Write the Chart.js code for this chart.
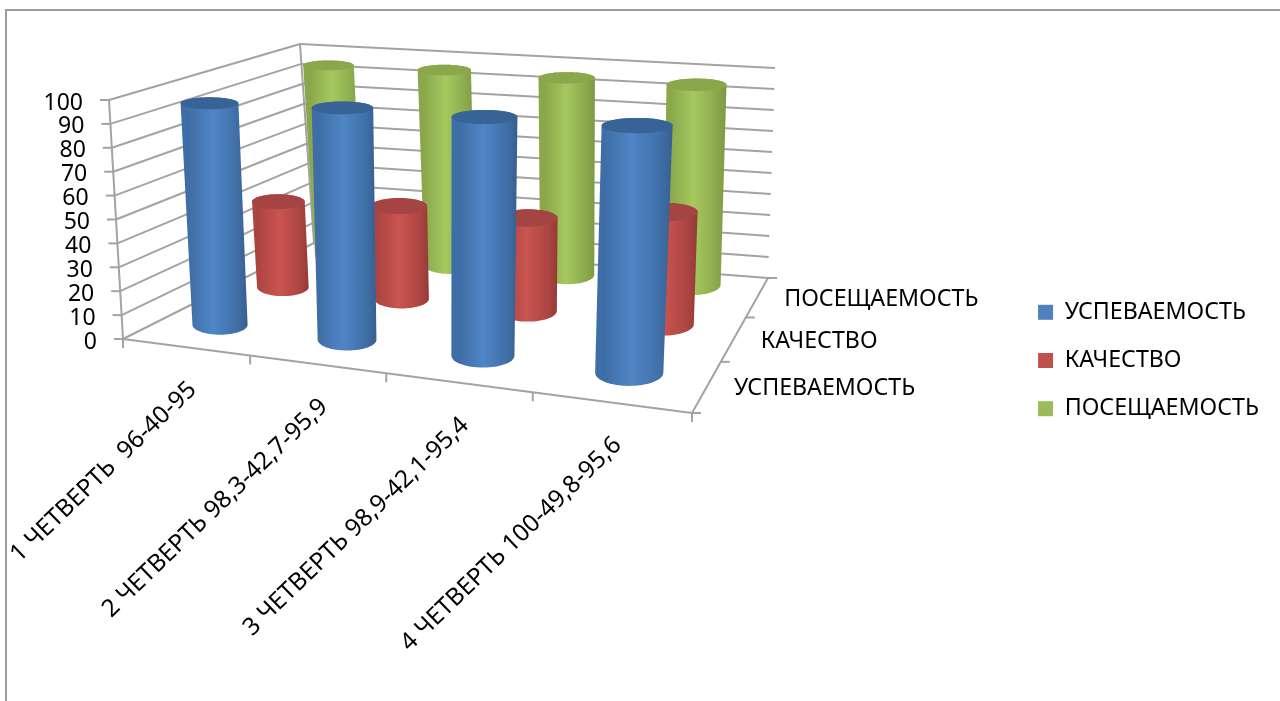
<!DOCTYPE html>
<html>
<head>
<meta charset="utf-8">
<style>
body { margin: 0; background: #fff; }
canvas { display: block; }
</style>
<script src="https://cdn.jsdelivr.net/npm/chart.js"></script>
</head>
<body>
<canvas id="chart" width="1280" height="701"></canvas>
<script>
const quarters = ['1 ЧЕТВЕРТЬ  96-40-95', '2 ЧЕТВЕРТЬ 98,3-42,7-95,9', '3 ЧЕТВЕРТЬ 98,9-42,1-95,4', '4 ЧЕТВЕРТЬ 100-49,8-95,6'];
const seriesNames = ['УСПЕВАЕМОСТЬ', 'КАЧЕСТВО', 'ПОСЕЩАЕМОСТЬ'];
const uspevaemost = [96, 98.3, 98.9, 100];
const kachestvo = [40, 42.7, 42.1, 49.8];
const poseshchaemost = [95, 95.9, 95.4, 95.6];
const seriesValues = [uspevaemost, kachestvo, poseshchaemost];
const swatchColors = ['#4f81bd', '#c0504d', '#9bbb59'];

// cylinder shading: edge left, light, edge right, top cap
const shades = [
  ['#3f6ea6', '#4f86c6', '#365f90', '#376396'],
  ['#ac4542', '#ca5450', '#943a37', '#a54543'],
  ['#8aa84b', '#a6c85f', '#7d9942', '#8ba74c']
];

// the 3D box as seen on the page: [front-left, front-right, back-right, back-left]
const floorQuad = [[123, 339], [692, 413], [768, 278], [314, 243]];
const topQuad = [[109, 100], [704, 147], [775, 68], [300, 44]];

const FONT = '"Noto Sans", sans-serif';
const GRID = '#a3a3a3';
const PERSPECTIVE = 0.625; // share of true perspective, the rest is plain bilinear

function homography(q) {
  const [p0, p1, p2, p3] = q;
  const dx1 = p1[0] - p2[0], dx2 = p3[0] - p2[0], sx = p0[0] - p1[0] + p2[0] - p3[0];
  const dy1 = p1[1] - p2[1], dy2 = p3[1] - p2[1], sy = p0[1] - p1[1] + p2[1] - p3[1];
  const den = dx1 * dy2 - dx2 * dy1;
  const g = (sx * dy2 - dx2 * sy) / den;
  const h = (dx1 * sy - sx * dy1) / den;
  const a = p1[0] - p0[0] + g * p1[0], b = p3[0] - p0[0] + h * p3[0];
  const d = p1[1] - p0[1] + g * p1[1], e = p3[1] - p0[1] + h * p3[1];
  return (u, w) => {
    const k = g * u + h * w + 1;
    const hx = (a * u + b * w + p0[0]) / k, hy = (d * u + e * w + p0[1]) / k;
    const lin = i => (p0[i] * (1 - u) + p1[i] * u) * (1 - w) + (p3[i] * (1 - u) + p2[i] * u) * w;
    return [hx * PERSPECTIVE + lin(0) * (1 - PERSPECTIVE), hy * PERSPECTIVE + lin(1) * (1 - PERSPECTIVE)];
  };
}
const floorAt = homography(floorQuad);
const topAt = homography(topQuad);

// u, w across the floor 0..1, t up the wall 0..1; lift raises only the floor end
function project(u, w, t, lift = 0) {
  const f = floorAt(u, w), c = topAt(u, w);
  const fy = floorAt(u, w + lift)[1];
  return [f[0] + (c[0] - f[0]) * t, fy + (c[1] - fy) * t];
}

function hull(pts) {
  const s = pts.slice().sort((a, b) => a[0] - b[0] || a[1] - b[1]);
  const cross = (o, a, b) => (a[0] - o[0]) * (b[1] - o[1]) - (a[1] - o[1]) * (b[0] - o[0]);
  const half = list => {
    const out = [];
    for (const p of list) {
      while (out.length > 1 && cross(out[out.length - 2], out[out.length - 1], p) <= 0) out.pop();
      out.push(p);
    }
    out.pop();
    return out;
  };
  return half(s).concat(half(s.reverse()));
}

function polyPath(ctx, pts) {
  ctx.beginPath();
  pts.forEach((p, i) => i ? ctx.lineTo(p[0], p[1]) : ctx.moveTo(p[0], p[1]));
  ctx.closePath();
}

function line(ctx, a, b) {
  ctx.beginPath();
  ctx.moveTo(a[0], a[1]);
  ctx.lineTo(b[0], b[1]);
  ctx.stroke();
}

const R_U = 0.056, R_W = 0.09;

function drawCylinder(ctx, u, w, t, shade) {
  const lift = Math.min(0.06, 0.015 + 0.09 * w);
  // flat ellipse sized by how far the footprint reaches at that level
  const ring = level => {
    const c = project(u, w, level, lift);
    const rx = Math.abs(project(u + R_U, w, level)[0] - project(u - R_U, w, level)[0]) / 2;
    const ry = Math.abs(project(u, w + R_W, level)[1] - project(u, w - R_W, level)[1]) / 2;
    const pts = [];
    for (let i = 0; i < 64; i++) {
      const a = i / 64 * Math.PI * 2;
      pts.push([c[0] + rx * Math.cos(a), c[1] + ry * Math.sin(a)]);
    }
    return pts;
  };
  const base = ring(0), cap = ring(t);
  const body = hull(base.concat(cap));
  const xs = body.map(p => p[0]);
  const xl = Math.min(...xs), xr = Math.max(...xs);
  const g = ctx.createLinearGradient(xl, 0, xr, 0);
  g.addColorStop(0, shade[0]);
  g.addColorStop(0.12, shade[0]);
  g.addColorStop(0.48, shade[1]);
  g.addColorStop(0.85, shade[0]);
  g.addColorStop(1, shade[2]);
  ctx.fillStyle = g;
  polyPath(ctx, body);
  ctx.fill();
  ctx.fillStyle = shade[3];
  polyPath(ctx, cap);
  ctx.fill();
}

const scene = {
  id: 'scene',
  beforeDraw(chart) {
    const ctx = chart.ctx;
    ctx.save();
    ctx.fillStyle = '#fff';
    ctx.fillRect(0, 0, chart.width, chart.height);
    ctx.strokeStyle = '#9c9c9c';
    ctx.lineWidth = 2;
    ctx.beginPath();
    ctx.moveTo(chart.width, 10);
    ctx.lineTo(6, 10);
    ctx.lineTo(6, chart.height);
    ctx.stroke();
    ctx.restore();
  },
  // replaces the flat bars with the 3D box and cylinders
  beforeDatasetsDraw(chart) {
    const ctx = chart.ctx;
    const xs = chart.scales.x, ys = chart.scales.y, zs = chart.scales.z;
    const uOf = i => (xs.getPixelForValue(i) - xs.left) / xs.width;
    const wOf = i => (zs.getPixelForValue(i) - zs.left) / zs.width;
    const tOf = v => (ys.bottom - ys.getPixelForValue(v)) / ys.height;

    ctx.save();
    ctx.strokeStyle = GRID;
    ctx.lineWidth = 2;

    // walls and value ticks
    ys.ticks.forEach(tick => {
      const t = tOf(tick.value);
      const fl = project(0, 0, t), bl = project(0, 1, t), br = project(1, 1, t);
      line(ctx, fl, bl);
      line(ctx, bl, br);
      line(ctx, [fl[0] - 9, fl[1]], fl);
      ctx.fillStyle = '#000';
      ctx.font = '23px ' + FONT;
      ctx.textAlign = 'right';
      ctx.textBaseline = 'middle';
      ctx.fillText(tick.label, fl[0] - 26, fl[1] + 3);
    });
    line(ctx, project(0, 0, 0), project(0, 0, 1));
    line(ctx, project(0, 1, 0), project(0, 1, 1));

    // floor edges
    line(ctx, project(0, 0, 0), project(1, 0, 0));
    line(ctx, project(1, 0, 0), project(1, 1, 0));
    for (let i = 0; i <= quarters.length; i++) {
      const p = project(i / quarters.length, 0, 0);
      line(ctx, p, [p[0], p[1] + 9]);
    }
    for (let i = 0; i <= seriesNames.length; i++) {
      const p = project(1, i / seriesNames.length, 0);
      line(ctx, p, [p[0] + 9, p[1]]);
    }

    // back row first so the nearer cylinders cover it
    for (let s = seriesValues.length - 1; s >= 0; s--) {
      seriesValues[s].forEach((v, i) => drawCylinder(ctx, uOf(i), wOf(s), tOf(v), shades[s]));
    }

    // category and depth labels
    ctx.fillStyle = '#000';
    ctx.font = '24.3px ' + FONT;
    quarters.forEach((label, i) => {
      const p = project(uOf(i), 0, 0);
      ctx.save();
      ctx.translate(p[0] + 7, p[1] + 39);
      ctx.rotate(-44 * Math.PI / 180);
      ctx.textAlign = 'right';
      ctx.textBaseline = 'middle';
      ctx.fillText(label, 0, 0);
      ctx.restore();
    });
    ctx.font = '23.2px ' + FONT;
    seriesNames.forEach((label, s) => {
      const p = project(1, wOf(s), 0);
      ctx.textAlign = 'left';
      ctx.textBaseline = 'middle';
      ctx.fillText(label, p[0] + 27, p[1] + 2);
    });
    ctx.restore();
    return false;
  }
};

new Chart(document.getElementById('chart'), {
  type: 'bar',
  data: {
    labels: quarters,
    datasets: seriesNames.map((name, s) => ({
      label: name,
      data: seriesValues[s],
      backgroundColor: swatchColors[s]
    }))
  },
  options: {
    responsive: false,
    animation: false,
    layout: { padding: { right: 11, top: 20 } },
    plugins: {
      tooltip: { enabled: false },
      legend: {
        position: 'right',
        labels: {
          boxWidth: 15,
          boxHeight: 15,
          padding: 25,
          color: '#000',
          font: { family: '"Noto Sans"', size: 23.2 }
        }
      }
    },
    scales: {
      x: { display: false, offset: true },
      y: { display: false, min: 0, max: 100, ticks: { stepSize: 10 } },
      z: { type: 'category', axis: 'x', position: 'bottom', labels: seriesNames, display: false, offset: true }
    }
  },
  plugins: [scene]
});
</script>
</body>
</html>
